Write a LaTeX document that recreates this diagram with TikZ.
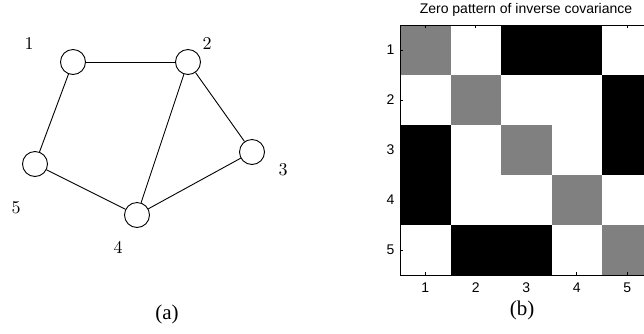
\documentclass[tikz,border=0pt]{standalone}
\usepackage{fontspec}
\newfontfamily\plotfont{Liberation Sans}
\newfontfamily\capfont{Liberation Serif}
\newfontfamily\numfont{lmroman10-regular.otf}

\tikzset{
  vertex/.style={circle, draw, line width=0.9pt, minimum size=25pt, inner sep=0pt},
  vlabel/.style={font=\numfont\fontsize{18}{21}\selectfont},
  edge/.style={line width=0.9pt},
  ticklabel/.style={font=\plotfont\fontsize{14}{16}\selectfont},
  caption/.style={font=\capfont\fontsize{21}{24}\selectfont},
}

\begin{document}
\begin{tikzpicture}[x=1pt, y=-1pt]
		\useasboundingbox (0,0) rectangle (644,333);
		
		% Graph with five vertices
		\node[vertex] (v1) at (73,62) {};
		\node[vertex] (v2) at (188,62) {};
		\node[vertex] (v3) at (252,152) {};
		\node[vertex] (v4) at (137,215) {};
		\node[vertex] (v5) at (35,164) {};
		
		\node[vlabel] (l1) at (29,44) {1};
		\node[vlabel] (l2) at (207,44) {2};
		\node[vlabel] (l3) at (283,170) {3};
		\node[vlabel] (l4) at (118,247) {4};
		\node[vlabel] (l5) at (16,208) {5};
		
		\draw[edge] (v1) -- (v2);
		\draw[edge] (v1) -- (v5);
		\draw[edge] (v2) -- (v4);
		\draw[edge] (v2) -- (v3);
		\draw[edge] (v3) -- (v4);
		\draw[edge] (v5) -- (v4);
		
		\node[caption] (capa) at (167,314) {(a)};
		
		% Zero pattern, one row at a time
		\foreach \r/\row in {1/{gray,white,black,black,white},
		                     2/{white,gray,white,white,black},
		                     3/{black,white,gray,white,black},
		                     4/{black,white,white,gray,white},
		                     5/{white,black,black,white,gray}}{
			\foreach \c [count=\k] in \row {
				\fill[\c] ({400+50.5*(\k-1)},{25+50*(\r-1)}) rectangle ++(50.5,50);
			}
		}
		
		% Axes and ticks
		\draw[line width=1pt] (644,25) -- (400,25) -- (400,275) -- (644,275);
		\foreach \k in {1,...,5}{
			\draw[line width=0.6pt] ({400+50.5*(\k-0.5)},25) -- ++(0,3);
			\draw[line width=0.6pt] ({400+50.5*(\k-0.5)},275) -- ++(0,-3);
			\draw[line width=0.6pt] (400,{25+50*(\k-0.5)}) -- ++(3,0);
			\node[ticklabel, anchor=east] (yt\k) at (398,{25+50*(\k-0.5)}) {\k};
			\node[ticklabel] (xt\k) at ({400+50.5*(\k-0.5)},288) {\k};
		}
		
		\node[font=\plotfont\fontsize{14}{16}\selectfont] (title) at (526,10) {Zero pattern of inverse covariance};
		\node[caption] (capb) at (522,310) {(b)};
		
	\end{tikzpicture}
\end{document}
